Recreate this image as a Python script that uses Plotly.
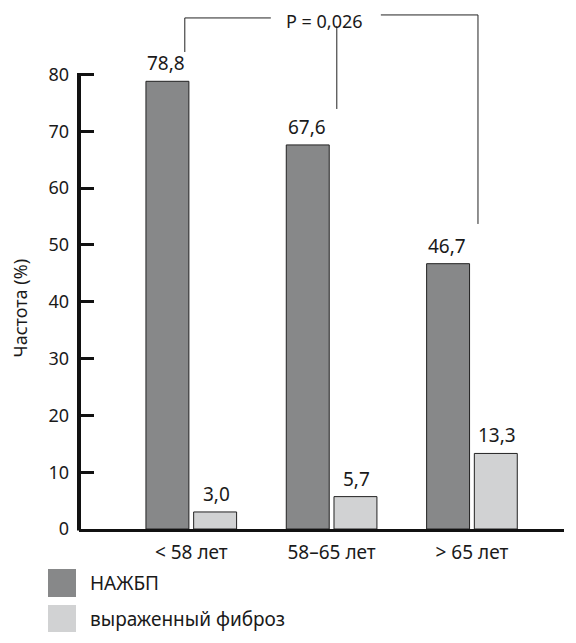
import plotly.graph_objects as go

# data
categories = ["< 58 лет", "58–65 лет", "> 65 лет"]
nafld = [78.8, 67.6, 46.7]
fibrosis = [3.0, 5.7, 13.3]
series_names = ["НАЖБП", "выраженный фиброз"]
y_ticks = [0, 10, 20, 30, 40, 50, 60, 70, 80]
p_label = "P = 0,026"

DARK = "#878889"
LIGHT = "#d1d2d3"
INK = "#1a1a1a"
FONT = "Noto Sans"

Y_TOP = 91.35


def fmt(v):
    return f"{v:.1f}".replace(".", ",")


fig = go.Figure()
for name, vals, color in [(series_names[0], nafld, DARK), (series_names[1], fibrosis, LIGHT)]:
    fig.add_trace(go.Bar(
        x=list(range(len(categories))),
        y=vals,
        name=name,
        marker=dict(color=color, line=dict(color="#222222", width=1)),
        showlegend=False,
        hoverinfo="skip",
    ))

# value labels above the bars
annotations = []
for vals, shift in [(nafld, -25), (fibrosis, 25)]:
    for i, v in enumerate(vals):
        annotations.append(dict(
            x=i, y=v, xref="x", yref="y", text=fmt(v), showarrow=False,
            xshift=shift, yshift=18, font=dict(size=19, color=INK, family=FONT),
        ))

# significance bracket label
annotations.append(dict(
    x=0.952, y=89.5, xref="x", yref="y", text=p_label, showarrow=False,
    borderpad=0, font=dict(size=18, color=INK, family=FONT),
))

# y axis title
annotations.append(dict(
    x=-0.1216, y=0.425, xref="paper", yref="paper", text="Частота (%)",
    xanchor="center", yanchor="middle", borderpad=0,
    textangle=-90, showarrow=False, font=dict(size=18, color=INK, family=FONT),
))

# legend entries
legend_rows = [(series_names[0], DARK, -0.0771, -0.1310), (series_names[1], LIGHT, -0.1464, -0.1985)]
shapes = []
for name, color, y0, y1 in legend_rows:
    shapes.append(dict(type="rect", xref="paper", yref="paper", x0=-0.0639, x1=-0.0062,
                       y0=y0, y1=y1, fillcolor=color, line=dict(width=0)))
    annotations.append(dict(
        x=0.018, y=(y0 + y1) / 2, xref="paper", yref="paper", text=name,
        xanchor="left", yanchor="middle", showarrow=False,
        font=dict(size=19, color=INK, family=FONT),
    ))

line = dict(color="#222222", width=1)
bracket = [
    (-0.046, 89.95, -0.046, 83.96),
    (-0.046, 89.95, 0.567, 89.95),
    (1.351, 90.48, 2.043, 90.48),
    (2.043, 90.48, 2.043, 53.69),
    (1.037, 88.54, 1.037, 73.93),
]
for x0, y0, x1, y1 in bracket:
    shapes.append(dict(type="line", xref="x", yref="y", x0=x0, y0=y0, x1=x1, y1=y1, line=line))

# y axis line only up to 80
shapes.append(dict(type="line", xref="paper", yref="paper", x0=0, x1=0, y0=-0.003,
                   y1=y_ticks[-1] / Y_TOP + 0.003, line=dict(color="#111111", width=4)))

# the page body adds an 8px margin, so the figure is 8px smaller and shifted
fig.update_layout(
    width=568, height=635,
    margin=dict(l=71, r=12, t=2, b=114),
    paper_bgcolor="white", plot_bgcolor="white",
    barmode="group", bargap=0.32, bargroupgap=0.1,
    font=dict(family=FONT, size=18, color=INK),
    annotations=annotations,
    shapes=shapes,
    xaxis=dict(
        range=[-0.80, 2.656],
        tickmode="array", tickvals=list(range(len(categories))), ticktext=categories,
        showline=True, linecolor="#111111", linewidth=3,
        ticks="", showgrid=False, zeroline=False,
        ticklabelstandoff=4,
        tickfont=dict(size=19, color=INK, family=FONT),
    ),
    yaxis=dict(
        range=[0, Y_TOP],
        tickmode="array", tickvals=y_ticks,
        ticks="inside", ticklen=15, tickwidth=3, tickcolor="#111111",
        showline=False, showgrid=False, zeroline=False,
        ticklabelstandoff=9,
        tickfont=dict(size=18, color=INK, family=FONT),
    ),
)

fig.write_html("out.html")
